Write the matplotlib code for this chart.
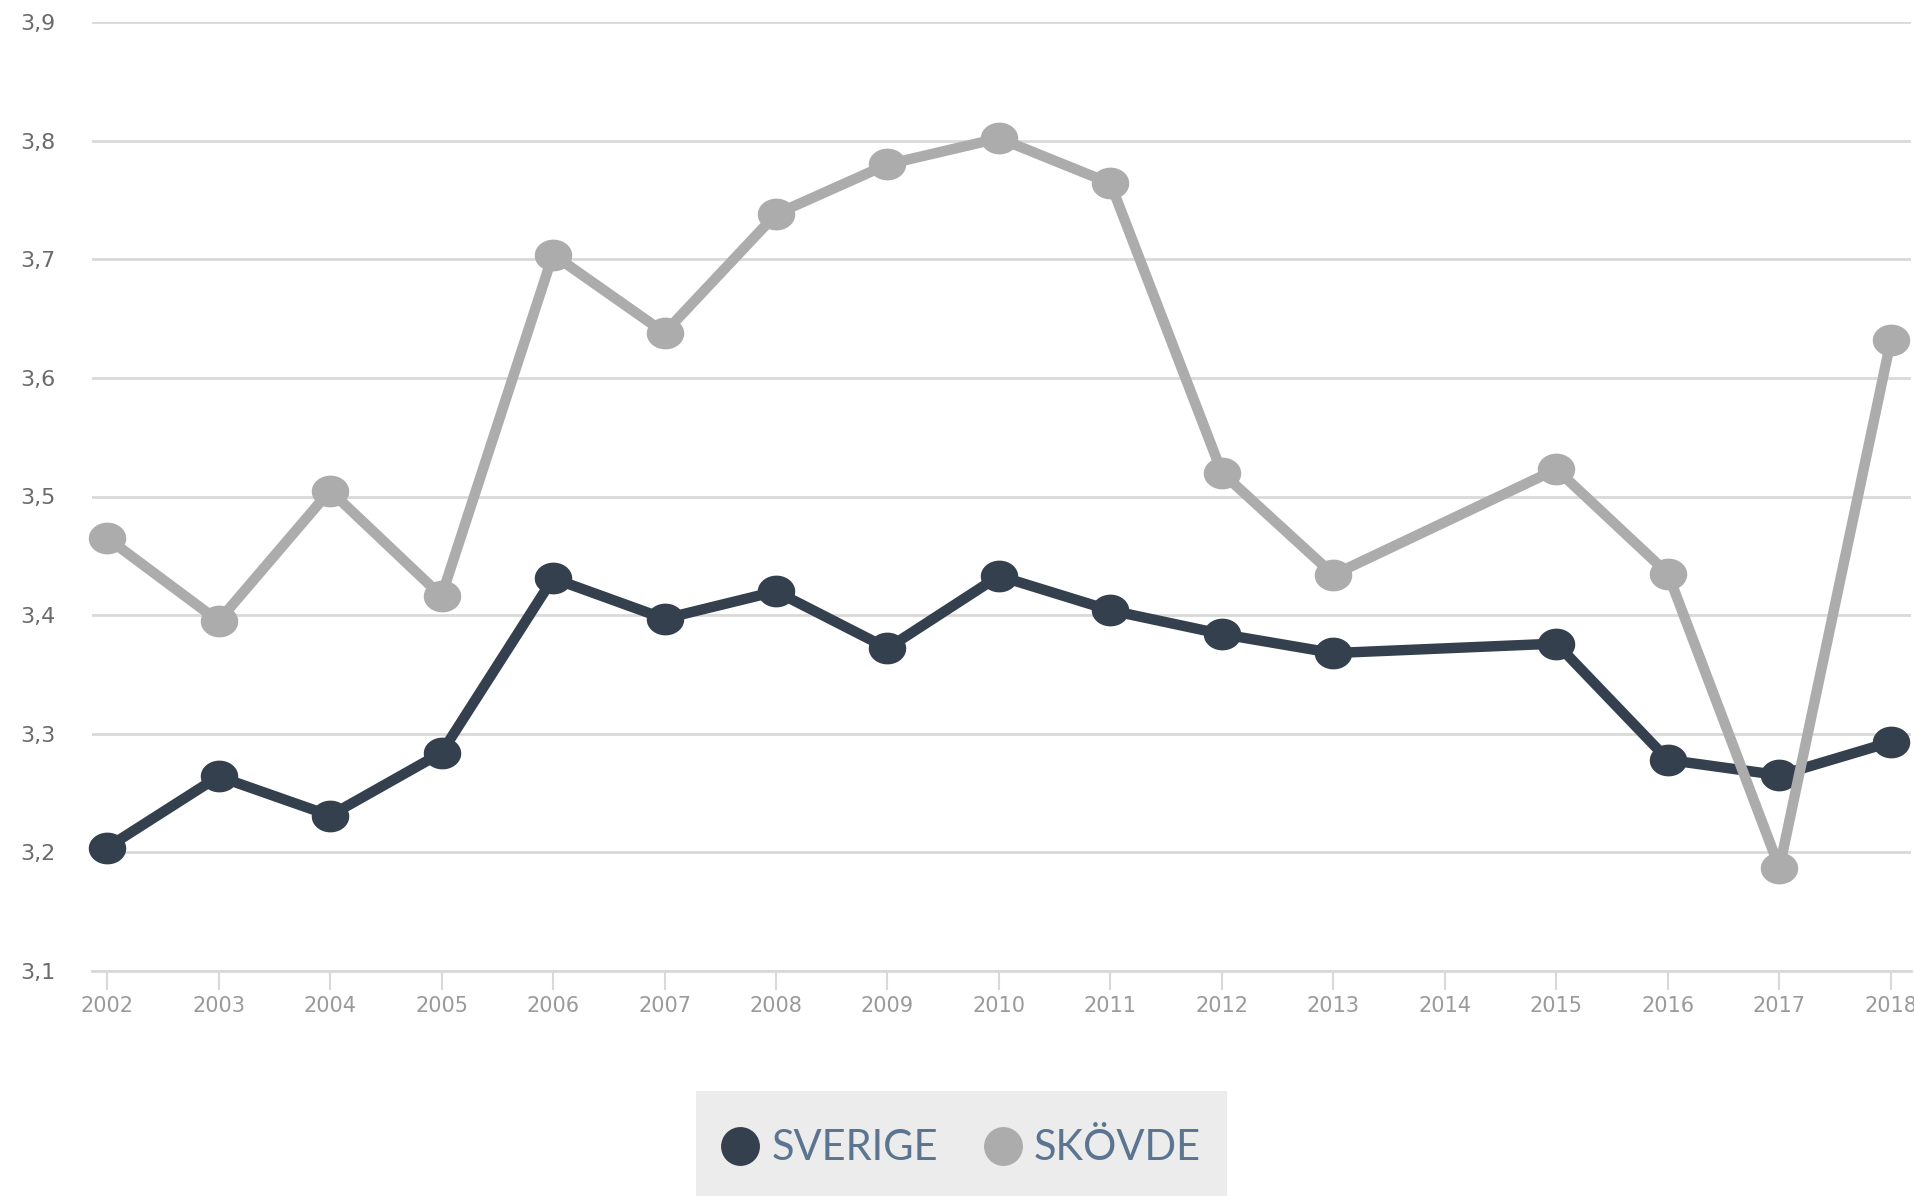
#!/usr/bin/env python3
"""Sverige vs Skövde, 2002-2018 (2014 missing)."""

import matplotlib
matplotlib.use("Agg")
import matplotlib.pyplot as plt
import numpy as np
from matplotlib.lines import Line2D
from matplotlib.patches import Rectangle
from matplotlib.path import Path
from matplotlib.ticker import FuncFormatter

YEARS = [2002, 2003, 2004, 2005, 2006, 2007, 2008, 2009, 2010,
         2011, 2012, 2013, 2015, 2016, 2017, 2018]
SVERIGE = [3.204, 3.264, 3.231, 3.284, 3.431, 3.397, 3.420, 3.372, 3.433,
           3.404, 3.384, 3.368, 3.376, 3.278, 3.265, 3.293]
SKOVDE = [3.465, 3.395, 3.505, 3.416, 3.704, 3.638, 3.738, 3.780, 3.802,
          3.764, 3.520, 3.434, 3.523, 3.435, 3.187, 3.632]
TICK_YEARS = list(range(2002, 2019))
Y_TICKS = [3.1, 3.2, 3.3, 3.4, 3.5, 3.6, 3.7, 3.8, 3.9]
SERIES_NAMES = ["SVERIGE", "SKÖVDE"]

SVERIGE_COLOR = "#34404d"
SKOVDE_COLOR = "#acacac"
GRID_COLOR = "#d9d9d9"
LEGEND_TEXT = "#5b7591"

# slightly wide ellipse marker, as in the original rendering
t = np.linspace(0, 2 * np.pi, 64)
ELLIPSE = Path(np.column_stack([1.18 * np.cos(t), np.sin(t)]), closed=True)

fig = plt.figure(figsize=(19.15, 11.96), dpi=100)
ax = fig.add_axes([92 / 1915, 1 - 971 / 1196, (1911 - 92) / 1915, (971 - 22) / 1196])

for vals, color, z in [(SVERIGE, SVERIGE_COLOR, 3), (SKOVDE, SKOVDE_COLOR, 4)]:
    ax.plot(YEARS, vals, color=color, linewidth=7.5, marker=ELLIPSE,
            markersize=27, markeredgewidth=0, solid_joinstyle="round",
            solid_capstyle="round", zorder=z, clip_on=False)

ax.set_xlim(2001.865, 2018.18)
ax.set_ylim(3.1, 3.9)
ax.set_yticks(Y_TICKS)
ax.set_xticks(TICK_YEARS)
ax.yaxis.set_major_formatter(FuncFormatter(lambda v, _: f"{v:.1f}".replace(".", ",")))

ax.grid(axis="y", color=GRID_COLOR, linewidth=2)
ax.set_axisbelow(True)
for side in ["left", "right", "top"]:
    ax.spines[side].set_visible(False)
ax.spines["bottom"].set_color(GRID_COLOR)
ax.spines["bottom"].set_linewidth(2)

ax.tick_params(axis="y", length=0, pad=26, labelsize=16, labelcolor="#6a6a6a")
ax.tick_params(axis="x", length=14, width=1.5, color=GRID_COLOR, pad=4,
               labelsize=15, labelcolor="#9a9a9a")
for lbl in ax.get_xticklabels() + ax.get_yticklabels():
    lbl.set_family("DejaVu Sans")

# legend box
fig.add_artist(Rectangle((696 / 1915, 0), (1227 - 696) / 1915, 1 - 1091 / 1196,
                         transform=fig.transFigure, facecolor="#ececec",
                         edgecolor="none"))
handles = [Line2D([], [], linestyle="none", marker="o", markersize=28,
                  markerfacecolor=c, markeredgewidth=0)
           for c in (SVERIGE_COLOR, SKOVDE_COLOR)]
leg = fig.legend(handles, SERIES_NAMES, loc="center", ncol=2,
                 bbox_to_anchor=(0.502, 0.040), frameon=False,
                 handlelength=0.9, handletextpad=0.3, columnspacing=1.1,
                 prop={"family": "Lato", "weight": "normal", "size": 30})
for txt in leg.get_texts():
    txt.set_color(LEGEND_TEXT)

fig.savefig("out.png", dpi=100)
